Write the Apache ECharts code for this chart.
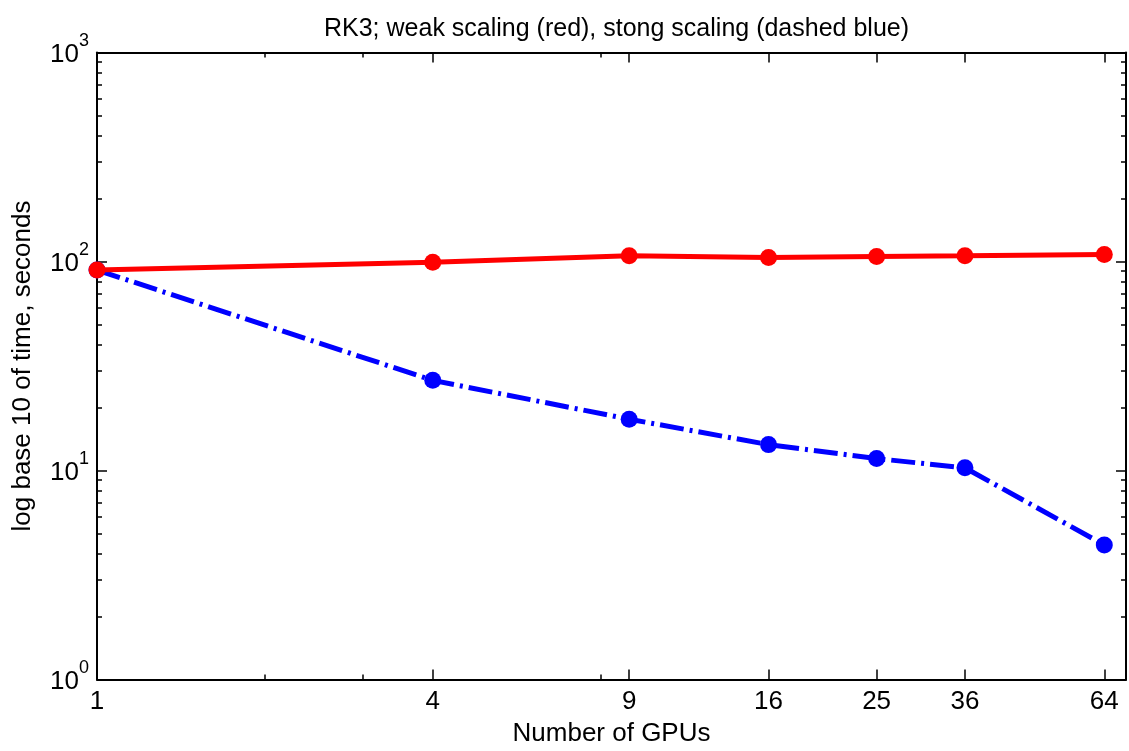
<!DOCTYPE html>
<html>
<head>
<meta charset="utf-8">
<script src="https://cdn.jsdelivr.net/npm/echarts@6/dist/echarts.min.js"></script>
<style>
html,body{margin:0;padding:0;background:#fff;}
#chart{width:1129px;height:751px;}
</style>
</head>
<body>
<div id="chart"></div>
<script>
// Data
const gpus = [1, 4, 9, 16, 25, 36, 64];
const weakScaling = [91, 99.3, 106.5, 104.5, 105.7, 106.5, 108];
const strongScaling = [91, 27, 17.6, 13.3, 11.4, 10.3, 4.4];
const xMajorTicks = [4, 9, 16, 25, 36, 64];
const xLabelValues = [1, 4, 9, 16, 25, 36, 64];
const xMinorTicks = [2, 3, 8];
const yMajorTicks = [1, 10, 100, 1000];
const yMinorTicks = [2, 3, 4, 5, 6, 7, 8, 9, 20, 30, 40, 50, 60, 70, 80, 90, 200, 300, 400, 500, 600, 700, 800, 900];
const titleText = 'RK3; weak scaling (red), stong scaling (dashed blue)';
const xName = 'Number of GPUs';
const yName = 'log base 10 of time, seconds';

const FONT = '"Liberation Sans", Arial, Helvetica, sans-serif';
const chart = echarts.init(document.getElementById('chart'), null, {renderer: 'canvas'});

function xAxisDef(pos, ticks, len, showLine, labels) {
  return {
    type: 'log', logBase: 10, min: 1, max: 70, position: pos,
    axisLine: {show: showLine, onZero: false, lineStyle: {color: '#000', width: 2}},
    axisTick: {show: true, inside: true, length: len, customValues: ticks, lineStyle: {color: '#000', width: 1.5}},
    axisLabel: labels ? {show: true, customValues: xLabelValues, margin: 9, color: '#000', fontSize: 26, fontFamily: FONT,
      formatter: v => String(Math.round(v))} : {show: false},
    splitLine: {show: false}, minorTick: {show: false}, minorSplitLine: {show: false}
  };
}
function yAxisDef(pos, ticks, len, showLine, labels) {
  return {
    type: 'log', logBase: 10, min: 1, max: 1000, position: pos,
    axisLine: {show: showLine, onZero: false, lineStyle: {color: '#000', width: 2}},
    axisTick: {show: true, inside: true, length: len, customValues: ticks, lineStyle: {color: '#000', width: 1.5}},
    axisLabel: labels ? {show: true, customValues: yMajorTicks, margin: 8, color: '#000', fontFamily: FONT,
      padding: [0, 0, 5, 0],
      formatter: v => '{b|10}{s|' + Math.round(Math.log10(v)) + '}',
      rich: {
        b: {fontSize: 26, fontFamily: FONT, color: '#000', verticalAlign: 'bottom', padding: [10, 0, 0, 0]},
        s: {fontSize: 18, fontFamily: FONT, color: '#000', verticalAlign: 'top'}
      }} : {show: false},
    splitLine: {show: false}, minorTick: {show: false}, minorSplitLine: {show: false}
  };
}

const xAxes = [
  xAxisDef('bottom', xMajorTicks, 10, true, true),
  xAxisDef('bottom', xMinorTicks, 5, false, false),
  xAxisDef('top', xMajorTicks, 10, true, false),
  xAxisDef('top', xMinorTicks, 5, false, false)
];
xAxes[0].name = xName;
xAxes[0].nameLocation = 'middle';
xAxes[0].nameGap = 41;
xAxes[0].nameTextStyle = {color: '#000', fontSize: 26, fontFamily: FONT};

const yAxes = [
  yAxisDef('left', yMajorTicks, 10, true, true),
  yAxisDef('left', yMinorTicks, 5, false, false),
  yAxisDef('right', yMajorTicks, 10, true, false),
  yAxisDef('right', yMinorTicks, 5, false, false)
];
yAxes[0].name = yName;
yAxes[0].nameLocation = 'middle';
yAxes[0].nameGap = 61;
yAxes[0].nameTextStyle = {color: '#000', fontSize: 26, fontFamily: FONT};

chart.setOption({
  backgroundColor: '#fff',
  animation: false,
  title: {
    text: titleText, left: 611.5, textAlign: 'center', top: 12,
    textStyle: {color: '#000', fontSize: 25, fontWeight: 'normal', fontFamily: FONT}
  },
  grid: {left: 97, right: 3, top: 52.5, bottom: 71.5, containLabel: false, outerBoundsMode: 'none'},
  xAxis: xAxes,
  yAxis: yAxes,
  series: [
    {
      name: 'strong', type: 'line', xAxisIndex: 0, yAxisIndex: 0,
      data: gpus.map((g, i) => [g, strongScaling[i]]),
      symbol: 'circle', symbolSize: 17, showAllSymbol: true,
      itemStyle: {color: '#0000ff'},
      lineStyle: {color: '#0000ff', width: 5, type: [24, 6, 3, 6], cap: 'butt'},
      z: 3
    },
    {
      name: 'weak', type: 'line', xAxisIndex: 0, yAxisIndex: 0,
      data: gpus.map((g, i) => [g, weakScaling[i]]),
      symbol: 'circle', symbolSize: 17, showAllSymbol: true,
      itemStyle: {color: '#ff0000'},
      lineStyle: {color: '#ff0000', width: 5},
      z: 4
    }
  ]
});
</script>
</body>
</html>
